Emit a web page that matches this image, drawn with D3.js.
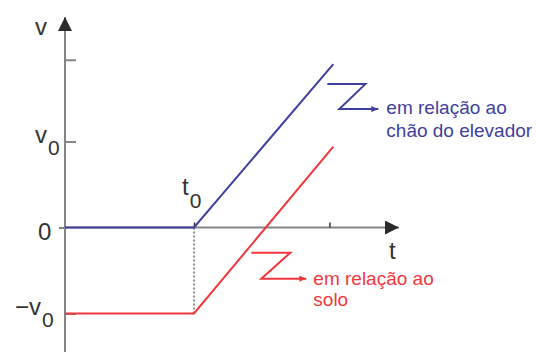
<!DOCTYPE html>
<html>
<head>
<meta charset="utf-8">
<script src="https://cdn.jsdelivr.net/npm/d3@7"></script>
<style>
  html, body { margin: 0; padding: 0; background: #fff; }
  svg { display: block; font-family: 'Liberation Sans', Arial, sans-serif; }
</style>
</head>
<body>
<svg id="graph"></svg>
<script>
// time points (in units of t0) and speeds (in units of v0)
const tPoints = [0, 1, 2.08]
const chaoValues = [0, 0, 1.9]
const soloValues = [-1, -1, 0.94]
const tTicks = [1, 2.05]
const vTicksRight = [1, 1.95, -1]
const vTicksLeft = [0]
const chaoLabel = ['em relação ao', 'chão do elevador']
const soloLabel = ['em relação ao', 'solo']

const width = 536
const height = 352
const blue = '#3f3f9d'
const red = '#f2373c'
const gray = '#858585'

const svg = d3.select('#graph').attr('width', width).attr('height', height)

const xScale = d3.scaleLinear().domain([0, 1]).range([65, 194])
const yScale = d3.scaleLinear().domain([-1, 1]).range([313.5, 141.5])

const x0 = xScale(0)
const y0 = yScale(0)

// arrow heads
svg.append('defs').append('marker')
  .attr('id', 'bigArrow')
  .attr('viewBox', '0 0 14 14')
  .attr('refX', 14).attr('refY', 7)
  .attr('markerWidth', 14).attr('markerHeight', 14)
  .attr('markerUnits', 'userSpaceOnUse')
  .attr('orient', 'auto')
  .append('path').attr('d', 'M0,0 L14,7 L0,14 Z').attr('fill', '#2b2b2b')

const smallArrow = (id, color) => {
  svg.select('defs').append('marker')
    .attr('id', id)
    .attr('viewBox', '0 0 7 6')
    .attr('refX', 7).attr('refY', 3)
    .attr('markerWidth', 7).attr('markerHeight', 6)
    .attr('markerUnits', 'userSpaceOnUse')
    .attr('orient', 'auto')
    .append('path').attr('d', 'M0,0 L7,3 L0,6 Z').attr('fill', color)
}
smallArrow('arrowBlue', blue)
smallArrow('arrowRed', red)

// axes
svg.append('line')
  .attr('x1', x0).attr('y1', height)
  .attr('x2', x0).attr('y2', 17)
  .attr('stroke', gray).attr('stroke-width', 2)
  .attr('marker-end', 'url(#bigArrow)')

svg.append('line')
  .attr('x1', x0).attr('y1', y0)
  .attr('x2', 399).attr('y2', y0)
  .attr('stroke', gray).attr('stroke-width', 2)
  .attr('marker-end', 'url(#bigArrow)')

const axisYRight = d3.axisRight(yScale).tickValues(vTicksRight).tickSize(11).tickFormat('')
svg.append('g')
  .attr('transform', `translate(${x0},0)`)
  .call(axisYRight)
  .call((g) => g.select('.domain').remove())
  .call((g) => g.selectAll('line').attr('stroke', gray).attr('stroke-width', 2))

const axisYLeft = d3.axisLeft(yScale).tickValues(vTicksLeft).tickSize(6).tickFormat('')
svg.append('g')
  .attr('transform', `translate(${x0},0)`)
  .call(axisYLeft)
  .call((g) => g.select('.domain').remove())
  .call((g) => g.selectAll('line').attr('stroke', gray).attr('stroke-width', 2))

const axisX = d3.axisTop(xScale).tickValues(tTicks).tickSize(5).tickFormat('')
svg.append('g')
  .attr('transform', `translate(0,${y0})`)
  .call(axisX)
  .call((g) => g.select('.domain').remove())
  .call((g) => g.selectAll('line').attr('stroke', '#333').attr('stroke-width', 1.5))

// dotted guide at t0
svg.append('line')
  .attr('x1', xScale(1)).attr('y1', y0)
  .attr('x2', xScale(1)).attr('y2', yScale(-1))
  .attr('stroke', '#222').attr('stroke-width', 1)
  .attr('stroke-dasharray', '2,2')

// series
const line = d3.line().x((d) => xScale(d.t)).y((d) => yScale(d.v))
const solo = tPoints.map((t, i) => ({ t, v: soloValues[i] }))
const chao = tPoints.map((t, i) => ({ t, v: chaoValues[i] }))

svg.append('path')
  .datum(solo)
  .attr('fill', 'none').attr('stroke', red).attr('stroke-width', 2)
  .attr('d', line)

svg.append('path')
  .datum(chao)
  .attr('fill', 'none').attr('stroke', blue).attr('stroke-width', 2)
  .attr('d', line)

// labels
const fontSize = 24
const label = (x, y, main, sub, subDx, subDy) => {
  const t = svg.append('text')
    .attr('x', x).attr('y', y)
    .attr('font-size', fontSize).attr('fill', '#333')
  t.append('tspan').text(main)
  if (sub) {
    t.append('tspan').attr('dx', subDx).attr('dy', subDy).attr('font-size', 21).text(sub)
  }
}
label(35, 35, 'v')
label(35, 143, 'v', '0', 1, 12)
label(38, 240, '0')
label(15, 315, '−v', '0', 1, 12)
label(182, 195, 't', '0', 1, 13)
label(389, 259, 't')

// annotations
const zAnnotation = (pts, arrowId, color, textX, baselines, lines) => {
  svg.append('path')
    .attr('d', d3.line()(pts))
    .attr('fill', 'none').attr('stroke', color).attr('stroke-width', 2)
    .attr('marker-end', `url(#${arrowId})`)
  const t = svg.append('text').attr('font-size', 19).attr('fill', color)
  lines.forEach((s, i) => {
    t.append('tspan').attr('x', textX).attr('y', baselines[i]).text(s)
  })
}

const chaoEnd = [xScale(tPoints[2]), yScale(chaoValues[2])]
const soloEnd = [xScale(tPoints[2]), yScale(soloValues[2])]

zAnnotation(
  [[chaoEnd[0] - 6, chaoEnd[1] + 20], [chaoEnd[0] + 32, chaoEnd[1] + 20],
   [chaoEnd[0] + 6, chaoEnd[1] + 45], [chaoEnd[0] + 45, chaoEnd[1] + 45]],
  'arrowBlue', blue, chaoEnd[0] + 53, [chaoEnd[1] + 50, chaoEnd[1] + 73], chaoLabel)

zAnnotation(
  [[soloEnd[0] - 82, soloEnd[1] + 106], [soloEnd[0] - 43, soloEnd[1] + 106],
   [soloEnd[0] - 72, soloEnd[1] + 132], [soloEnd[0] - 27, soloEnd[1] + 132]],
  'arrowRed', red, soloEnd[0] - 20, [soloEnd[1] + 138.5, soloEnd[1] + 159], soloLabel)
</script>
</body>
</html>
